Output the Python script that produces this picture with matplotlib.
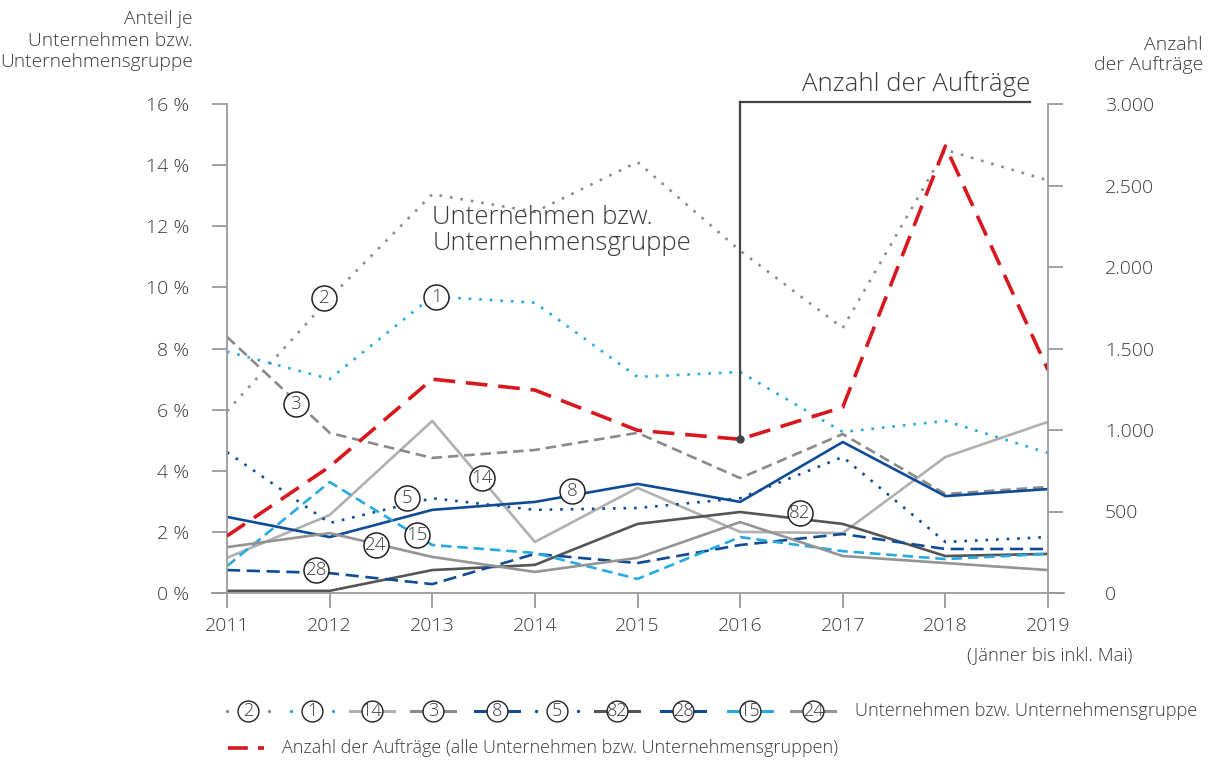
import matplotlib
matplotlib.use("Agg")
import matplotlib.pyplot as plt
from matplotlib.lines import Line2D
from matplotlib.ticker import FuncFormatter

# ---------------- Daten ----------------
jahre = [2011, 2012, 2013, 2014, 2015, 2016, 2017, 2018, 2019]

u2 = [5.95, 9.65, 13.05, 12.47, 14.1, 11.2, 8.67, 14.5, 13.5]
u1 = [7.9, 7.0, 9.7, 9.5, 7.07, 7.23, 5.27, 5.63, 4.58]
u14 = [1.15, 2.55, 5.63, 1.67, 3.44, 2.0, 1.96, 4.45, 5.6]
u3 = [8.38, 5.24, 4.42, 4.68, 5.24, 3.76, 5.2, 3.24, 3.47]
u8 = [2.49, 1.83, 2.72, 2.98, 3.57, 2.98, 4.94, 3.17, 3.4]
u5 = [4.61, 2.29, 3.1, 2.72, 2.78, 3.1, 4.45, 1.67, 1.83]
u82 = [0.07, 0.07, 0.75, 0.92, 2.26, 2.65, 2.26, 1.21, 1.28]
u28 = [0.75, 0.65, 0.29, 1.28, 0.98, 1.57, 1.93, 1.44, 1.44]
u15 = [0.88, 3.63, 1.57, 1.31, 0.46, 1.83, 1.37, 1.11, 1.28]
u24 = [1.5, 1.96, 1.18, 0.69, 1.15, 2.32, 1.21, 0.98, 0.75]

auftraege = [350, 775, 1312, 1245, 998, 943, 1140, 2742, 1368]

punktiert = (0, (1, 3))
# Nummer, Werte, Farbe, Linienstil
reihen = [
    ("2", u2, "#8c8c8c", punktiert),
    ("1", u1, "#27a9e1", punktiert),
    ("14", u14, "#b0b0b0", "-"),
    ("3", u3, "#8a8a8a", (0, (4, 2.2))),
    ("8", u8, "#0f4c95", "-"),
    ("5", u5, "#0f4c95", punktiert),
    ("82", u82, "#555555", "-"),
    ("28", u28, "#0f4c95", (0, (5, 2.5))),
    ("15", u15, "#27a9e1", (0, (4, 2.2))),
    ("24", u24, "#949494", "-"),
]
# Position der Nummern im Diagramm
label_pos = {"2": (2011.95, 9.65), "1": (2013.04, 9.69), "3": (2011.67, 6.18),
             "14": (2013.48, 3.76), "5": (2012.75, 3.11), "8": (2014.36, 3.34),
             "82": (2016.58, 2.62), "28": (2011.87, 0.75), "24": (2012.45, 1.57),
             "15": (2012.85, 1.90)}

rot = "#d7191f"
textfarbe = "#3a3a3a"
achsfarbe = "#9a9a9a"

plt.rcParams['font.family'] = ['Open Sans', 'DejaVu Sans']
plt.rcParams['font.weight'] = 'light'

W, H = 1208, 760
fig = plt.figure(figsize=(W / 100, H / 100), dpi=100)


def px(x, y):
    return (x / W, 1 - y / H)


l, r, t, b = 227, 1048, 104, 593
ax = fig.add_axes([l / W, 1 - b / H, (r - l) / W, (b - t) / H])
ax2 = ax.twinx()

for nr, werte, farbe, stil in reihen:
    ax.plot(jahre, werte, color=farbe, lw=1.9, linestyle=stil)

ax2.plot(jahre, auftraege, color=rot, lw=2.6, linestyle=(0, (6, 3)))

ax.set_xlim(2011, 2019)
ax.set_ylim(0, 16)
ax2.set_ylim(0, 3000)

ax.set_yticks(range(0, 17, 2))
ax.yaxis.set_major_formatter(FuncFormatter(lambda v, p: f"{int(v)} %"))
ax2.set_yticks(range(0, 3001, 500))
ax2.yaxis.set_major_formatter(FuncFormatter(lambda v, p: f"{int(v):,}".replace(",", ".")))
ax.set_xticks(jahre)

for a in (ax, ax2):
    for s in a.spines.values():
        s.set_visible(False)
ax.spines['left'].set_visible(True)
ax.spines['left'].set_color(achsfarbe)
ax.spines['left'].set_linewidth(1.3)
ax2.spines['right'].set_visible(True)
ax2.spines['right'].set_color(achsfarbe)
ax2.spines['right'].set_linewidth(1.3)

ax.tick_params(axis='y', direction='out', length=11, width=1.3, color=achsfarbe,
               labelsize=14, labelcolor=textfarbe, pad=16)
ax.tick_params(axis='x', direction='out', length=11, width=1.3, color=achsfarbe,
               labelsize=14, labelcolor=textfarbe, pad=6)
ax2.tick_params(axis='y', direction='out', length=11, width=1.3, color=achsfarbe,
                labelsize=14, labelcolor=textfarbe, pad=30)

# Grundlinie etwas ueber die Achsen hinaus
ax.add_line(Line2D([-15 / (r - l), 1 + 16 / (r - l)], [0, 0], transform=ax.transAxes,
                   color=achsfarbe, lw=1.3, clip_on=False))

# Nummern im Diagramm
for nr, werte, farbe, stil in reihen:
    x, y = label_pos[nr]
    ax.plot([x], [y], marker='o', ms=18, mfc='white', mec='#222222', mew=1.1, zorder=5)
    ax.text(x, y, nr, ha='center', va='center', fontsize=13.5, color=textfarbe, zorder=6)

ax.text(2013.0, 11.85, "Unternehmen bzw.\nUnternehmensgruppe", fontsize=18.5,
        color=textfarbe, ha='left', va='center', linespacing=1.05)

# Hinweislinie Anzahl der Auftraege
top = 1 + 2 / (b - t)
ax2.plot([2016, 2016], [auftraege[5], 3000 * top], color="#444444", lw=1.6, clip_on=False, zorder=6)
ax2.plot([2016], [auftraege[5]], marker='o', ms=5, color="#444444", zorder=7)
ax2.plot([2016, 2011 + (1030 - l) / ((r - l) / 8)], [3000 * top, 3000 * top], color="#444444",
         lw=1.6, clip_on=False)
fig.text(*px(1030, 84), "Anzahl der Aufträge", fontsize=18.5, color=textfarbe,
         ha='right', va='center')

# Achsentitel
fig.text(*px(193, 10), "Anteil je\nUnternehmen bzw.\nUnternehmensgruppe", fontsize=13.8,
         color=textfarbe, ha='right', va='top', linespacing=1.25)
fig.text(*px(1203, 36), "Anzahl\nder Aufträge", fontsize=14, color=textfarbe,
         ha='right', va='top', linespacing=1.17)
fig.text(*px(1050, 655), "(Jänner bis inkl. Mai)", fontsize=13.2, color=textfarbe,
         ha='center', va='center')

# Legende (von Hand)
leg_x = [248, 312, 372, 433, 497, 557, 617, 683, 750, 813]
leg_y = 711
for (nr, werte, farbe, stil), cx in zip(reihen, leg_x):
    if stil == punktiert:
        for dx in (-21, 21):
            fig.add_artist(Line2D([px(cx + dx, leg_y)[0]], [px(cx + dx, leg_y)[1]],
                                  marker='o', ms=2.4, color=farbe, mew=0))
    else:
        for d0, d1 in ((-22, -8), (8, 22)):
            x0, y0 = px(cx + d0, leg_y)
            x1, y1 = px(cx + d1, leg_y)
            fig.add_artist(Line2D([x0, x1], [y0, y1], color=farbe, lw=2.2))
    fig.add_artist(Line2D([px(cx, leg_y)[0]], [px(cx, leg_y)[1]], marker='o', ms=15,
                          mfc='white', mec='#222222', mew=1.0))
    fig.text(*px(cx, leg_y), nr, fontsize=13, color=textfarbe, ha='center', va='center')
fig.text(*px(855, leg_y), "Unternehmen bzw. Unternehmensgruppe", fontsize=13.1,
         color=textfarbe, ha='left', va='center')

x0, y0 = px(228, 748)
x1, y1 = px(264, 748)
fig.add_artist(Line2D([x0, x1], [y0, y1], color=rot, lw=2.6, linestyle=(0, (5.5, 2.8))))
fig.text(*px(282, 748), "Anzahl der Aufträge (alle Unternehmen bzw. Unternehmensgruppen)",
         fontsize=13.0, color=textfarbe, ha='left', va='center')

fig.savefig("out.png", dpi=100)
